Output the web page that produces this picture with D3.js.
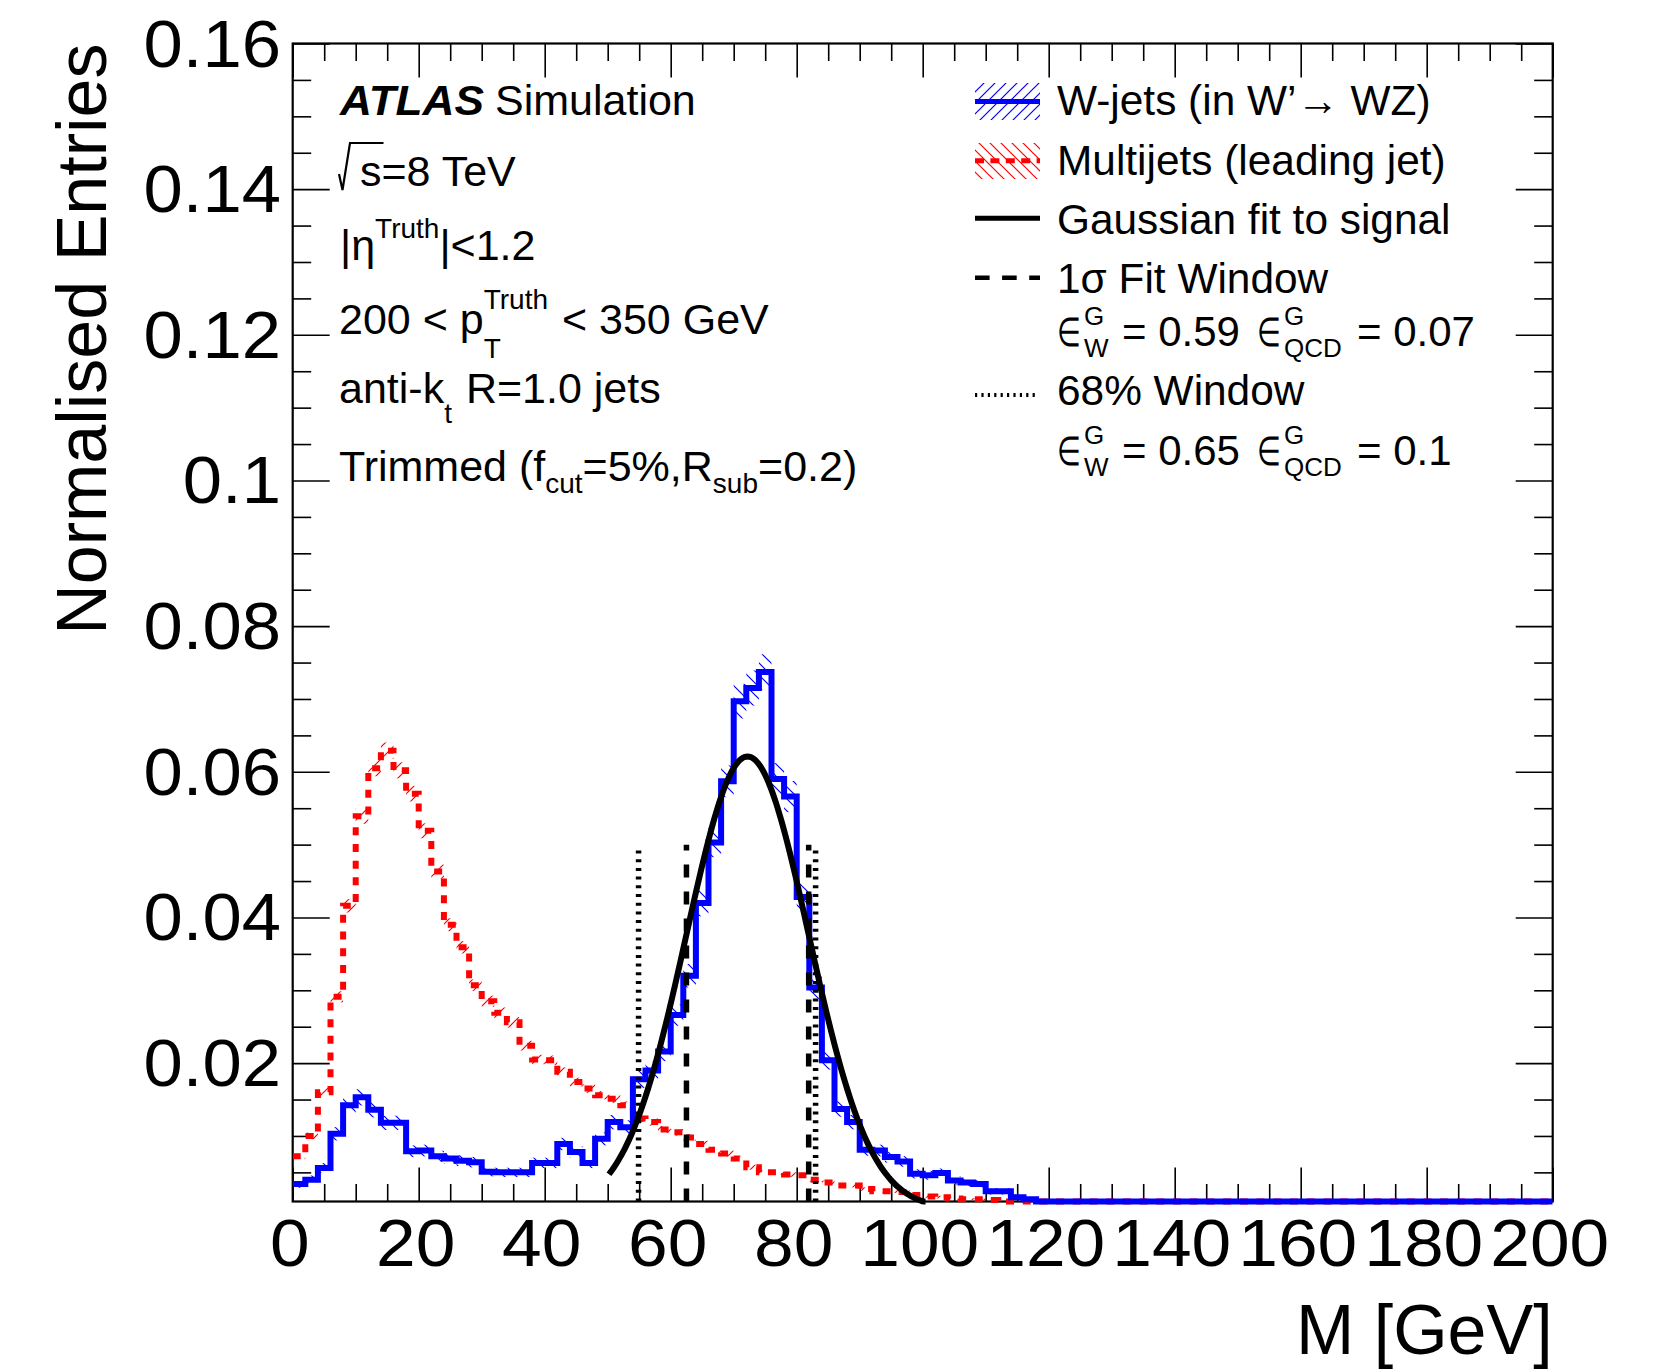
<!DOCTYPE html>
<html>
<head>
<meta charset="utf-8">
<script src="https://cdn.jsdelivr.net/npm/d3@7"></script>
<style>
  body { margin: 0; background: #fff; }
  text { font-family: "Liberation Sans", Arial, Helvetica, sans-serif; white-space: pre; fill: #000; }
</style>
</head>
<body>
<svg id="chart" width="1660" height="1372"></svg>
<script>
// 2 GeV bins from 0 to 200 GeV, normalised entries
const binWidth = 2

const wJets = [
  0.0034, 0.0040, 0.0056, 0.0103, 0.0142, 0.0153, 0.0136, 0.0118, 0.0118, 0.0079,
  0.0080, 0.0072, 0.0069, 0.0066, 0.0064, 0.0051, 0.0050, 0.0050, 0.0050, 0.0063,
  0.0063, 0.0089, 0.0078, 0.0063, 0.0096, 0.0119, 0.0112, 0.0178, 0.0190, 0.0216,
  0.0266, 0.0320, 0.0420, 0.0503, 0.0587, 0.0697, 0.0715, 0.0737, 0.0590, 0.0566,
  0.0428, 0.0304, 0.0204, 0.0137, 0.0119, 0.0081, 0.0080, 0.0071, 0.0065, 0.0048,
  0.0046, 0.0049, 0.0039, 0.0036, 0.0034, 0.0024, 0.0024, 0.0016, 0.0013, 0.0010,
  0.0008, 0.0007, 0.0006, 0.0005, 0.0005, 0.0004, 0.0004, 0.0003, 0.0003, 0.0003,
  0.0002, 0.0002, 0.0002, 0.0002, 0.0001, 0.0001, 0.0001, 0.0001, 0.0001, 0.0001,
  0.0001, 0.0001, 0.0001, 0.0001, 0.0001, 0.0001, 0.0001, 0.0001, 0.0001, 0.0001,
  0.0001, 0.0001, 0.0001, 0.0001, 0.0001, 0.0001, 0.0001, 0.0001, 0.0001, 0.0001
]

const multijets = [
  0.0072, 0.0100, 0.0160, 0.0291, 0.0416, 0.0539, 0.0605, 0.0629, 0.0602, 0.0570,
  0.0519, 0.0463, 0.0390, 0.0359, 0.0307, 0.0285, 0.0269, 0.0256, 0.0224, 0.0205,
  0.0204, 0.0188, 0.0174, 0.0165, 0.0156, 0.0151, 0.0142, 0.0124, 0.0119, 0.0109,
  0.0105, 0.0098, 0.0089, 0.0081, 0.0076, 0.0069, 0.0057, 0.0050, 0.0050, 0.0047,
  0.0046, 0.0040, 0.0036, 0.0032, 0.0032, 0.0027, 0.0024, 0.0024, 0.0023, 0.0019,
  0.0017, 0.0016, 0.0014, 0.0013, 0.0013, 0.0012, 0.0010, 0.0009, 0.0008, 0.0007,
  0.0006, 0.0006, 0.0005, 0.0005, 0.0004, 0.0004, 0.0003, 0.0003, 0.0003, 0.0002,
  0.0002, 0.0002, 0.0002, 0.0002, 0.0001, 0.0001, 0.0001, 0.0001, 0.0001, 0.0001,
  0.0001, 0.0001, 0.0001, 0.0001, 0.0001, 0.0001, 0.0001, 0.0001, 0.0001, 0.0001,
  0.0001, 0.0001, 0.0001, 0.0001, 0.0001, 0.0001, 0.0001, 0.0001, 0.0001, 0.0001
]

// stat. uncertainty scale (err = k * sqrt(content)) for the hatched bands
const wErrScale = 0.009
const qcdErrScale = 0.0045

// gaussian fit to the signal
const fitMean = 72.2
const fitSigma = 9.7
const fitAmp = 0.0621
const fitRange = [50.2, 100.6]

const sigmaWindow = [62.5, 81.9]
const window68 = [54.9, 83.0]
const windowHeight = 0.05

const xMajor = [0, 20, 40, 60, 80, 100, 120, 140, 160, 180, 200]
const yMajor = [0.02, 0.04, 0.06, 0.08, 0.1, 0.12, 0.14, 0.16]

const legendLabels = ['W-jets (in W\u2019\u2192 WZ)', 'Multijets (leading jet)', 'Gaussian fit to signal', '1\u03c3 Fit Window', '68% Window']
const effSigma = ['0.59', '0.07']
const eff68 = ['0.65', '0.1']

const X0 = 292.7, X1 = 1552.7, Y0 = 43.5, Y1 = 1201.5

let svg = d3.select('#chart')

let x = d3.scaleLinear().domain([0, 200]).range([X0, X1])
let y = d3.scaleLinear().domain([0.001, 0.16]).range([Y1, Y0])
const yc = v => y(Math.max(v, 0.001))

let defs = svg.append('defs')

defs.append('clipPath').attr('id', 'plotclip')
    .append('rect').attr('x', X0).attr('y', Y0).attr('width', X1 - X0).attr('height', Y1 - Y0 + 4)

function hatch(id, color, dir, size) {
    let p = defs.append('pattern').attr('id', id)
        .attr('patternUnits', 'userSpaceOnUse')
        .attr('width', size).attr('height', size)
    let s = size
    let d = dir == '/' ?
        `M${-s / 4},${s / 4} L${s / 4},${-s / 4} M0,${s} L${s},0 M${s * 3 / 4},${s * 5 / 4} L${s * 5 / 4},${s * 3 / 4}` :
        `M${-s / 4},${s * 3 / 4} L${s / 4},${s * 5 / 4} M0,0 L${s},${s} M${s * 3 / 4},${-s / 4} L${s * 5 / 4},${s / 4}`
    p.append('path').attr('d', d).style('stroke', color).style('stroke-width', 1.2).style('fill', 'none')
}
hatch('hatchBlue', '#0000ff', '\\', 12)
hatch('hatchRed', '#ff0000', '/', 12)
hatch('hatchBlueLeg', '#0000ff', '/', 11)
hatch('hatchRedLeg', '#ff0000', '\\', 11)

// frame + ticks
let minorX = d3.range(0, 201, 5).filter(d => d % 20 != 0)
let minorY = d3.range(0.005, 0.1601, 0.005).filter(d => Math.abs(d / 0.02 - Math.round(d / 0.02)) > 1e-6)

function tickGroup(axis, tx, ty) {
    svg.append('g').attr('transform', `translate(${tx},${ty})`).call(axis)
        .call(g => g.select('.domain').remove())
        .call(g => g.selectAll('line').style('stroke', '#000').style('stroke-width', 1.6))
}
tickGroup(d3.axisBottom(x).tickValues(xMajor).tickSize(-34).tickFormat(''), 0, Y1)
tickGroup(d3.axisBottom(x).tickValues(minorX).tickSize(-17.5).tickFormat(''), 0, Y1)
tickGroup(d3.axisTop(x).tickValues(xMajor).tickSize(-34).tickFormat(''), 0, Y0)
tickGroup(d3.axisTop(x).tickValues(minorX).tickSize(-17.5).tickFormat(''), 0, Y0)
tickGroup(d3.axisLeft(y).tickValues(yMajor).tickSize(-37).tickFormat(''), X0, 0)
tickGroup(d3.axisLeft(y).tickValues(minorY).tickSize(-18.5).tickFormat(''), X0, 0)
tickGroup(d3.axisRight(y).tickValues(yMajor).tickSize(-37).tickFormat(''), X1, 0)
tickGroup(d3.axisRight(y).tickValues(minorY).tickSize(-18.5).tickFormat(''), X1, 0)

svg.append('rect')
    .attr('x', X0).attr('y', Y0).attr('width', X1 - X0).attr('height', Y1 - Y0)
    .style('fill', 'none').style('stroke', '#000').style('stroke-width', 2.2)

// tick labels (slightly wide, like the original font)
svg.append('g').selectAll('text').data(xMajor).join('text')
    .attr('transform', d => `translate(${x(d) - 3},1266) scale(1.08,1)`)
    .attr('text-anchor', 'middle')
    .style('font-size', '66px')
    .text(d => d)

let yfmt = d3.format('.2~f')
svg.append('g').selectAll('text').data(yMajor).join('text')
    .attr('transform', d => `translate(281,${y(d) + 23}) scale(1.07,1)`)
    .attr('text-anchor', 'end')
    .style('font-size', '66px')
    .text(d => yfmt(d))

svg.append('text')
    .attr('transform', `translate(106,${Y0}) rotate(-90)`)
    .attr('text-anchor', 'end')
    .style('font-size', '70px')
    .text('Normalised Entries')

svg.append('text')
    .attr('x', X1).attr('y', 1354)
    .attr('text-anchor', 'end')
    .style('font-size', '70px')
    .text('M [GeV]')

// histograms
let plot = svg.append('g').attr('clip-path', 'url(#plotclip)')

function band(values, k, fill) {
    plot.append('g').selectAll('rect').data(values).join('rect')
        .attr('x', (d, i) => x(i * binWidth))
        .attr('width', x(binWidth) - x(0))
        .attr('y', d => yc(d + k * Math.sqrt(d)))
        .attr('height', d => Math.max(0, yc(d - k * Math.sqrt(d)) - yc(d + k * Math.sqrt(d))))
        .style('fill', `url(#${fill})`)
}
band(wJets, wErrScale, 'hatchBlue')
band(multijets, qcdErrScale, 'hatchRed')

let step = d3.line().x(d => x(d[0])).y(d => yc(d[1])).curve(d3.curveStepAfter)
const pts = vals => vals.map((v, i) => [i * binWidth, v]).concat([[vals.length * binWidth, vals[vals.length - 1]]])

plot.append('path').attr('d', step(pts(multijets)))
    .style('fill', 'none').style('stroke', '#ff0000').style('stroke-width', 6)
    .style('stroke-dasharray', '8 8.7')

plot.append('path').attr('d', step(pts(wJets)))
    .style('fill', 'none').style('stroke', '#0000ff').style('stroke-width', 6)

// gaussian fit curve
let fitPts = d3.range(fitRange[0], fitRange[1] + 0.001, 0.25)
    .map(m => [m, fitAmp * Math.exp(-Math.pow(m - fitMean, 2) / (2 * fitSigma * fitSigma))])
plot.append('path')
    .attr('d', d3.line().x(d => x(d[0])).y(d => yc(d[1])).curve(d3.curveLinear)(fitPts))
    .style('fill', 'none').style('stroke', '#000').style('stroke-width', 6)

// window lines
plot.selectAll('.w68').data(window68).join('line').attr('class', 'w68')
    .attr('x1', d => x(d)).attr('x2', d => x(d))
    .attr('y1', Y1).attr('y2', y(windowHeight))
    .style('stroke', '#000').style('stroke-width', 5.5).style('stroke-dasharray', '3 5.7')

plot.selectAll('.wsig').data(sigmaWindow).join('line').attr('class', 'wsig')
    .attr('x1', d => x(d)).attr('x2', d => x(d))
    .attr('y1', Y1).attr('y2', y(windowHeight))
    .style('stroke', '#000').style('stroke-width', 5.5).style('stroke-dasharray', '13 14')

// text helper: one <text> per line, runs and stacked sub/superscripts as tspans
let mainSize = 43, smallSize = 28
function rich(g, x0, base, parts, size) {
    size = size || mainSize
    let txt = g.append('text')
    let cx = x0
    parts.forEach(p => {
        cx += p.dx || 0
        if (p.at) cx = p.at
        if (p.stack) {
            let w = 0
            p.stack.forEach(s => {
                let el = txt.append('tspan').attr('x', cx).attr('y', base + s.dy)
                    .style('font-size', (s.size || smallSize) + 'px').text(s.t)
                w = Math.max(w, el.node().getComputedTextLength())
            })
            cx += w
        } else {
            let el = txt.append('tspan').attr('x', cx).attr('y', base)
                .style('font-size', (p.size || size) + 'px')
                .style('font-weight', p.bold ? 'bold' : null)
                .style('font-style', p.italic ? 'italic' : null)
                .text(p.t)
            if (p.len) el.attr('textLength', p.len).attr('lengthAdjust', 'spacingAndGlyphs')
            cx += p.len || el.node().getComputedTextLength()
        }
    })
    return cx
}

let info = svg.append('g')
rich(info, 340, 115, [{ t: 'ATLAS', bold: true, italic: true, len: 144 }, { at: 495, t: 'Simulation' }])

// sqrt(s)
let sEnd = rich(info, 360, 186, [{ t: 's=8 TeV' }])
let sW = 0.5 * mainSize
info.append('path')
    .attr('d', `M339,174 L342.5,190 L350,143 L${360 + sW + 2},143`)
    .style('fill', 'none').style('stroke', '#000').style('stroke-width', 2.2)

rich(info, 340, 260, [{ t: '|\u03b7' }, { stack: [{ t: 'Truth', dy: -22 }] }, { t: '|<1.2' }])
rich(info, 339, 334, [{ t: '200 < p' }, { stack: [{ t: 'Truth', dy: -25 }, { t: 'T', dy: 24 }] }, { t: ' < 350 GeV', dx: 2 }])
rich(info, 339, 403, [{ t: 'anti-k' }, { stack: [{ t: 't', dy: 20 }] }, { t: ' R=1.0 jets', dx: 2 }])
rich(info, 339, 481, [{ t: 'Trimmed (f' }, { stack: [{ t: 'cut', dy: 12 }] }, { t: '=5%,R' }, { stack: [{ t: 'sub', dy: 12 }] }, { t: '=0.2)' }])

// legend
let leg = svg.append('g')
const legX = 975, legW = 65, legTextX = 1057

leg.append('rect').attr('x', legX).attr('y', 83).attr('width', legW).attr('height', 37).style('fill', 'url(#hatchBlueLeg)')
leg.append('line').attr('x1', legX).attr('x2', legX + legW).attr('y1', 101.5).attr('y2', 101.5)
    .style('stroke', '#0000ff').style('stroke-width', 5)
leg.append('rect').attr('x', legX).attr('y', 143).attr('width', legW).attr('height', 36).style('fill', 'url(#hatchRedLeg)')
leg.append('line').attr('x1', legX).attr('x2', legX + legW).attr('y1', 160.7).attr('y2', 160.7)
    .style('stroke', '#ff0000').style('stroke-width', 5).style('stroke-dasharray', '9 6.4')
leg.append('line').attr('x1', legX).attr('x2', legX + legW).attr('y1', 218.3).attr('y2', 218.3)
    .style('stroke', '#000').style('stroke-width', 5)
leg.append('line').attr('x1', legX).attr('x2', legX + legW).attr('y1', 277.7).attr('y2', 277.7)
    .style('stroke', '#000').style('stroke-width', 4.5).style('stroke-dasharray', '14.6 12.5')
leg.append('line').attr('x1', legX).attr('x2', legX + 62).attr('y1', 395).attr('y2', 395)
    .style('stroke', '#000').style('stroke-width', 4).style('stroke-dasharray', '2.2 4.2')

const legBase = [115, 175, 234, 293, 405]
legendLabels.forEach((t, i) => rich(leg, legTextX, legBase[i], [{ t: t, size: 42.4 }]))

function effRow(base, vals) {
    rich(leg, legTextX, base, [
        { t: '\u2208', size: 40, len: 24 }, { at: 1084, stack: [{ t: 'G', dy: -21, size: 26 }, { t: 'W', dy: 11, size: 26 }] },
        { at: 1122, t: '= ' + vals[0], size: 42 },
        { at: 1257, t: '\u2208', size: 40, len: 24 }, { at: 1284, stack: [{ t: 'G', dy: -21, size: 26 }, { t: 'QCD', dy: 11, size: 26 }] },
        { at: 1357, t: '= ' + vals[1], size: 42 }
    ])
}
effRow(346, effSigma)
effRow(465, eff68)
</script>
</body>
</html>
